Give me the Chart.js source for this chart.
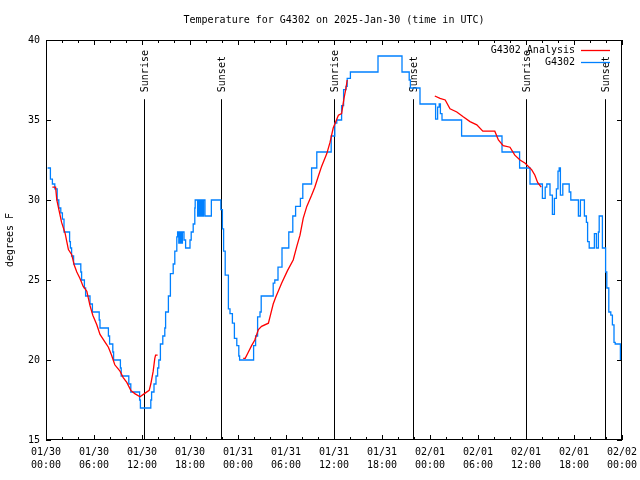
<!DOCTYPE html>
<html>
<head>
<meta charset="utf-8">
<script src="https://cdn.jsdelivr.net/npm/chart.js@4.4.1/dist/chart.umd.min.js"></script>
<style>
  body { margin: 0; background: #fff; }
  canvas { display: block; }
</style>
</head>
<body>
<canvas id="tempChart" width="640" height="480"></canvas>
<script>
// hours since 2025-01-30 00:00 UTC, temperature in degrees F
const blueHours = [
  0.2, 0.55, 0.8, 1.1, 1.4, 1.6, 1.85, 2.05, 2.25, 2.95, 3.05, 3.2, 3.45, 4.35, 4.45, 4.8, 4.95,
  5.5, 5.8, 6.65, 6.75, 7.8, 7.95, 8.35, 8.45, 9.3, 9.4, 10.35, 10.6, 11.7, 11.8,
  13.1, 13.2, 13.5, 13.75, 13.95, 14.1, 14.3, 14.6, 14.85, 14.95, 15.3, 15.55, 15.9, 16.1, 16.35,
  16.45, 16.6, 16.75, 16.9, 17.05, 17.25, 17.45, 18.0, 18.15, 18.4, 18.6, 18.65, 18.95, 19.07, 19.23,
  19.38, 19.54, 19.69, 19.87, 20.67, 21.85, 22.05, 22.2, 22.4, 22.8, 23.0, 23.3, 23.55, 23.85, 24.1,
  24.2, 25.95, 26.2, 26.45, 26.75, 26.9, 28.4, 28.6, 29.0, 29.5, 30.35, 30.85, 31.2, 31.8, 32.1,
  33.2, 33.85, 35.65, 36.1, 36.35, 36.95, 37.2, 37.5, 37.65, 38.05, 41.5, 44.5, 45.4, 45.55, 46.75,
  48.7, 48.95, 49.15, 49.3, 49.5, 51.95, 57.0, 59.2, 60.5, 62.05, 62.4, 62.6, 63.0, 63.3, 63.55,
  63.8, 64.0, 64.15, 64.3, 64.6, 65.4, 65.6, 66.55, 66.8, 67.3, 67.55, 67.7, 67.9, 68.55, 68.8,
  69.05, 69.15, 69.55, 69.95, 70.1, 70.35, 70.6, 70.8, 71.0, 71.15, 71.8, 72.0
];
const blueTemps = [
  32.0, 31.3, 31.0, 30.7, 30.0, 29.5, 29.2, 28.8, 28.0, 27.4, 27.0, 26.5, 26.0, 25.5, 25.0, 24.5, 24.0,
  23.5, 23.0, 22.5, 22.0, 21.5, 21.0, 20.5, 20.0, 19.5, 19.0, 18.5, 18.0, 17.5, 17.0,
  17.5, 18.0, 18.5, 19.0, 19.5, 20.0, 21.0, 21.5, 22.0, 23.0, 24.0, 25.4, 26.0, 26.8, 27.7,
  28.0, 27.3, 28.0, 27.3, 28.0, 27.5, 27.0, 27.5, 28.0, 28.5, 29.5, 30.0, 29.0, 30.0, 29.0,
  30.0, 29.0, 30.0, 29.0, 30.0, 29.4, 28.2, 26.8, 25.3, 23.2, 22.9, 22.3, 21.35, 20.9, 20.25,
  20.0, 20.9, 21.5, 22.7, 23.0, 24.0, 24.8, 25.0, 25.8, 27.0, 28.0, 29.0, 29.6, 30.1, 31.0,
  32.0, 33.0, 34.0, 34.8, 35.0, 35.9, 36.9, 37.1, 37.6, 38.0, 39.0, 38.0, 37.5, 37.0, 36.0,
  35.05, 35.8, 36.0, 35.4, 35.0, 34.0, 33.0, 32.0, 31.0, 30.1, 30.8, 31.0, 30.3, 29.1, 30.1,
  30.7, 31.8, 32.0, 30.3, 31.0, 30.5, 30.0, 29.0, 30.0, 29.0, 28.6, 27.4, 27.0, 27.9, 27.0,
  28.0, 29.0, 27.0, 25.5, 24.5, 23.0, 22.8, 22.2, 21.1, 21.0, 20.0, 20.0
];

// analysis series, null = gap between runs
const redHours = [
  0.8, 1.2, 1.35, 1.95, 2.4, 2.6, 2.8, 3.2, 3.55, 3.85, 4.25, 4.65, 5.1, 5.5, 5.85, 6.35, 6.75,
  7.4, 7.8, 8.2, 8.6, 9.25, 9.65, 10.1, 10.6, 11.1, 11.75, 12.3, 12.9, 13.1, 13.4, 13.6, 13.7, 13.95,
  14.0,
  24.65, 24.9, 25.3, 25.7, 26.1, 26.55, 26.95, 27.8, 28.1, 28.4, 28.7, 29.45, 30.2, 30.9, 31.35,
  31.75, 32.15, 32.6, 33.2, 33.6, 34.05, 34.45, 35.1, 35.5, 35.9, 36.55, 36.95, 37.25, 37.5, 37.65,
  37.7,
  48.6, 49.25, 49.9, 50.5, 51.35, 52.15, 53.0, 53.85, 54.6, 56.1, 56.55, 57.15, 58.0, 58.6, 59.25,
  59.9, 60.7, 61.1, 61.45, 61.9
];
const redTemps = [
  30.8, 30.8, 30.0, 28.6, 27.9, 27.4, 26.9, 26.6, 25.9, 25.5, 25.1, 24.6, 24.3, 23.4, 22.8, 22.2, 21.6,
  21.1, 20.8, 20.3, 19.7, 19.3, 18.9, 18.6, 18.1, 17.9, 17.7, 17.9, 18.1, 18.5, 19.3, 20.1, 20.3, 20.3,
  null,
  20.1, 20.1, 20.5, 20.9, 21.25, 21.9, 22.1, 22.3, 22.9, 23.5, 23.9, 24.8, 25.6, 26.25, 27.1,
  27.8, 28.85, 29.6, 30.3, 30.8, 31.5, 32.1, 32.9, 33.6, 34.5, 35.3, 35.4, 36.35, 37.0, 37.5,
  null,
  36.5, 36.35, 36.25, 35.7, 35.5, 35.2, 34.9, 34.7, 34.3, 34.3, 33.75, 33.4, 33.3, 32.8, 32.5,
  32.3, 31.9, 31.56, 31.1, 30.8
];

const xTickDates = ['01/30', '01/30', '01/30', '01/30', '01/31', '01/31', '01/31', '01/31',
  '02/01', '02/01', '02/01', '02/01', '02/02'];
const xTickTimes = ['00:00', '06:00', '12:00', '18:00', '00:00', '06:00', '12:00', '18:00',
  '00:00', '06:00', '12:00', '18:00', '00:00'];

const sunHours = [12.2, 21.9, 36.05, 45.9, 60.05, 69.9];
const sunLabels = ['Sunrise', 'Sunset', 'Sunrise', 'Sunset', 'Sunrise', 'Sunset'];
const sunLineTop = 36.3;

const titleText = 'Temperature for G4302 on 2025-Jan-30 (time in UTC)';
const redColor = '#ff0000';
const blueColor = 'rgb(0,128,255)';
const monoFont = { family: "'DejaVu Sans Mono', monospace", size: 10, lineHeight: 1.3 };

const bluePoints = blueHours.map((h, i) => ({ x: h, y: blueTemps[i] }));
const redPoints = redHours.map((h, i) => ({ x: h, y: redTemps[i] }));

// gnuplot style border, inward ticks, sun lines, legend and title
const gnuplotDecor = {
  id: 'gnuplotDecor',
  beforeDatasetsDraw(chart) {
    const { ctx, chartArea: a, scales: { x, y } } = chart;
    ctx.save();
    ctx.strokeStyle = '#000';
    ctx.fillStyle = '#000';
    ctx.lineWidth = 1;
    ctx.font = "10px 'DejaVu Sans Mono', monospace";
    const top = y.getPixelForValue(sunLineTop);
    sunHours.forEach((h, i) => {
      const px = Math.round(x.getPixelForValue(h)) + 0.5;
      ctx.beginPath();
      ctx.moveTo(px, top);
      ctx.lineTo(px, a.bottom);
      ctx.stroke();
      ctx.save();
      ctx.translate(px + 1, top - 7);
      ctx.rotate(-Math.PI / 2);
      ctx.textAlign = 'left';
      ctx.textBaseline = 'middle';
      ctx.fillText(sunLabels[i], 0, 0);
      ctx.restore();
    });
    ctx.restore();
  },
  afterDatasetsDraw(chart) {
    const { ctx, chartArea: a, scales: { x, y } } = chart;
    ctx.save();
    ctx.strokeStyle = '#000';
    ctx.lineWidth = 1;
    ctx.strokeRect(a.left + 0.5, a.top + 0.5, a.right - a.left - 1, a.bottom - a.top - 1);

    ctx.beginPath();
    for (let h = 0; h <= 72; h += 2) {
      const px = Math.round(x.getPixelForValue(h)) + 0.5;
      const len = h % 6 === 0 ? 5 : 3;
      ctx.moveTo(px, a.bottom); ctx.lineTo(px, a.bottom - len);
      ctx.moveTo(px, a.top); ctx.lineTo(px, a.top + len);
    }
    for (let t = 15; t <= 40; t += 5) {
      const py = Math.round(y.getPixelForValue(t)) + 0.5;
      ctx.moveTo(a.left, py); ctx.lineTo(a.left + 5, py);
      ctx.moveTo(a.right, py); ctx.lineTo(a.right - 5, py);
    }
    ctx.stroke();

    ctx.fillStyle = '#000';
    ctx.font = "10px 'DejaVu Sans Mono', monospace";
    ctx.textBaseline = 'middle';
    ctx.textAlign = 'center';
    ctx.fillText(titleText, (a.left + a.right) / 2, 20);

    ctx.textAlign = 'right';
    chart.data.datasets.forEach((ds, i) => {
      const ly = 50 + i * 12;
      ctx.fillText(ds.label, 575, ly);
      ctx.strokeStyle = ds.borderColor;
      ctx.lineWidth = ds.borderWidth;
      ctx.beginPath();
      ctx.moveTo(581, ly + 0.5);
      ctx.lineTo(610, ly + 0.5);
      ctx.stroke();
    });
    ctx.restore();
  }
};

new Chart(document.getElementById('tempChart'), {
  type: 'line',
  data: {
    datasets: [
      {
        label: 'G4302 Analysis',
        data: redPoints,
        borderColor: redColor,
        borderWidth: 1.3,
        pointRadius: 0,
        spanGaps: false,
        tension: 0
      },
      {
        label: 'G4302',
        data: bluePoints,
        borderColor: blueColor,
        borderWidth: 1.3,
        pointRadius: 0,
        stepped: true
      }
    ]
  },
  options: {
    responsive: false,
    animation: false,
    layout: { padding: { top: 40, right: 18, left: 0, bottom: 0 } },
    plugins: {
      legend: { display: false },
      title: { display: false },
      tooltip: { enabled: false }
    },
    scales: {
      x: {
        type: 'linear',
        min: 0,
        max: 72,
        grid: { display: false, drawTicks: false },
        border: { display: false },
        ticks: {
          stepSize: 6,
          padding: 6,
          autoSkip: false,
          maxRotation: 0,
          color: '#000',
          font: monoFont,
          callback: (v) => {
            const i = Math.round(v / 6);
            return [xTickDates[i], xTickTimes[i]];
          }
        },
        afterFit: (scale) => {
          scale.height = 40;
          scale.paddingLeft = 0;
          scale.paddingRight = 0;
        }
      },
      y: {
        min: 15,
        max: 40,
        grid: { display: false, drawTicks: false },
        border: { display: false },
        ticks: { stepSize: 5, padding: 6, color: '#000', font: monoFont },
        title: {
          display: true,
          text: 'degrees F',
          color: '#000',
          font: { family: "'DejaVu Sans Mono', monospace", size: 10, lineHeight: 1.2 },
          padding: { top: 4, bottom: 0 }
        },
        afterFit: (scale) => { scale.width = 46; }
      }
    }
  },
  plugins: [gnuplotDecor]
});
</script>
</body>
</html>
